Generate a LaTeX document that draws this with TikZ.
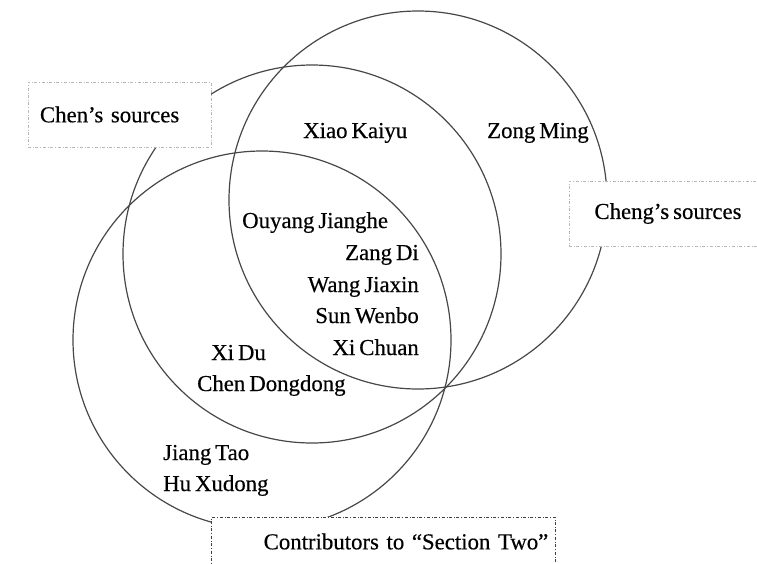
\documentclass[tikz,border=0pt]{standalone}
\usepackage{fontspec}
\setmainfont[WordSpace=0.7, FakeBold=0.4]{Liberation Serif}
\usetikzlibrary{positioning}
\tikzset{
    ring/.style = {
        draw=black!72,
        shape=circle,
        minimum size=378pt,
        inner sep=0pt,
        line width=1.2pt
    },
    tag/.style = {
        draw=black!28,
        dash dot,
        fill=white,
        shape=rectangle,
        minimum height=65pt,
        line width=0.6pt
    },
    person/.style = {
        inner sep=0pt
    },
}

\begin{document}
\begin{tikzpicture}[x=1pt, y=-1pt, font=\fontsize{22.8}{27}\selectfont]
                \useasboundingbox (0,0) rectangle (757,563);

                \node[ring] (chen) at (312,254) {};
                \node[ring] (cheng) at (418,200) {};
                \node[ring] (contrib) at (262,340) {};

                \node[tag, text width=159pt, align=left, inner xsep=12pt] (chenbox) at (119.5,114.5) {Chen's sources};
                \node[tag, minimum width=198pt] (chengbox) at (668,213.5) {Cheng's sources};
                \node[tag, draw=black!75, anchor=north west, text width=330pt, align=right, inner xsep=7pt, inner ysep=6pt, text height=26pt, text depth=40pt] (contribbox) at (211,517) {Contributors to ``Section Two''};

                \node[person, anchor=base west] (xiao) at (303,138) {Xiao Kaiyu};
                \node[person, anchor=base west] (zong) at (487,138) {Zong Ming};

                \node[person, anchor=base west] (ouyang) at (242,228) {Ouyang Jianghe};
                \node[person, anchor=base east] (zang) at (419,260) {Zang Di};
                \node[person, anchor=base east] (wang) at (419,292) {Wang Jiaxin};
                \node[person, anchor=base east] (sun) at (419,323) {Sun Wenbo};
                \node[person, anchor=base east] (xichuan) at (419,355) {Xi Chuan};

                \node[person, anchor=base west] (xidu) at (211,360) {Xi Du};
                \node[person, anchor=base west] (chendd) at (197,391) {Chen Dongdong};

                \node[person, anchor=base west] (jiang) at (163,460) {Jiang Tao};
                \node[person, anchor=base west] (hu) at (163,491) {Hu Xudong};
            \end{tikzpicture}
\end{document}
